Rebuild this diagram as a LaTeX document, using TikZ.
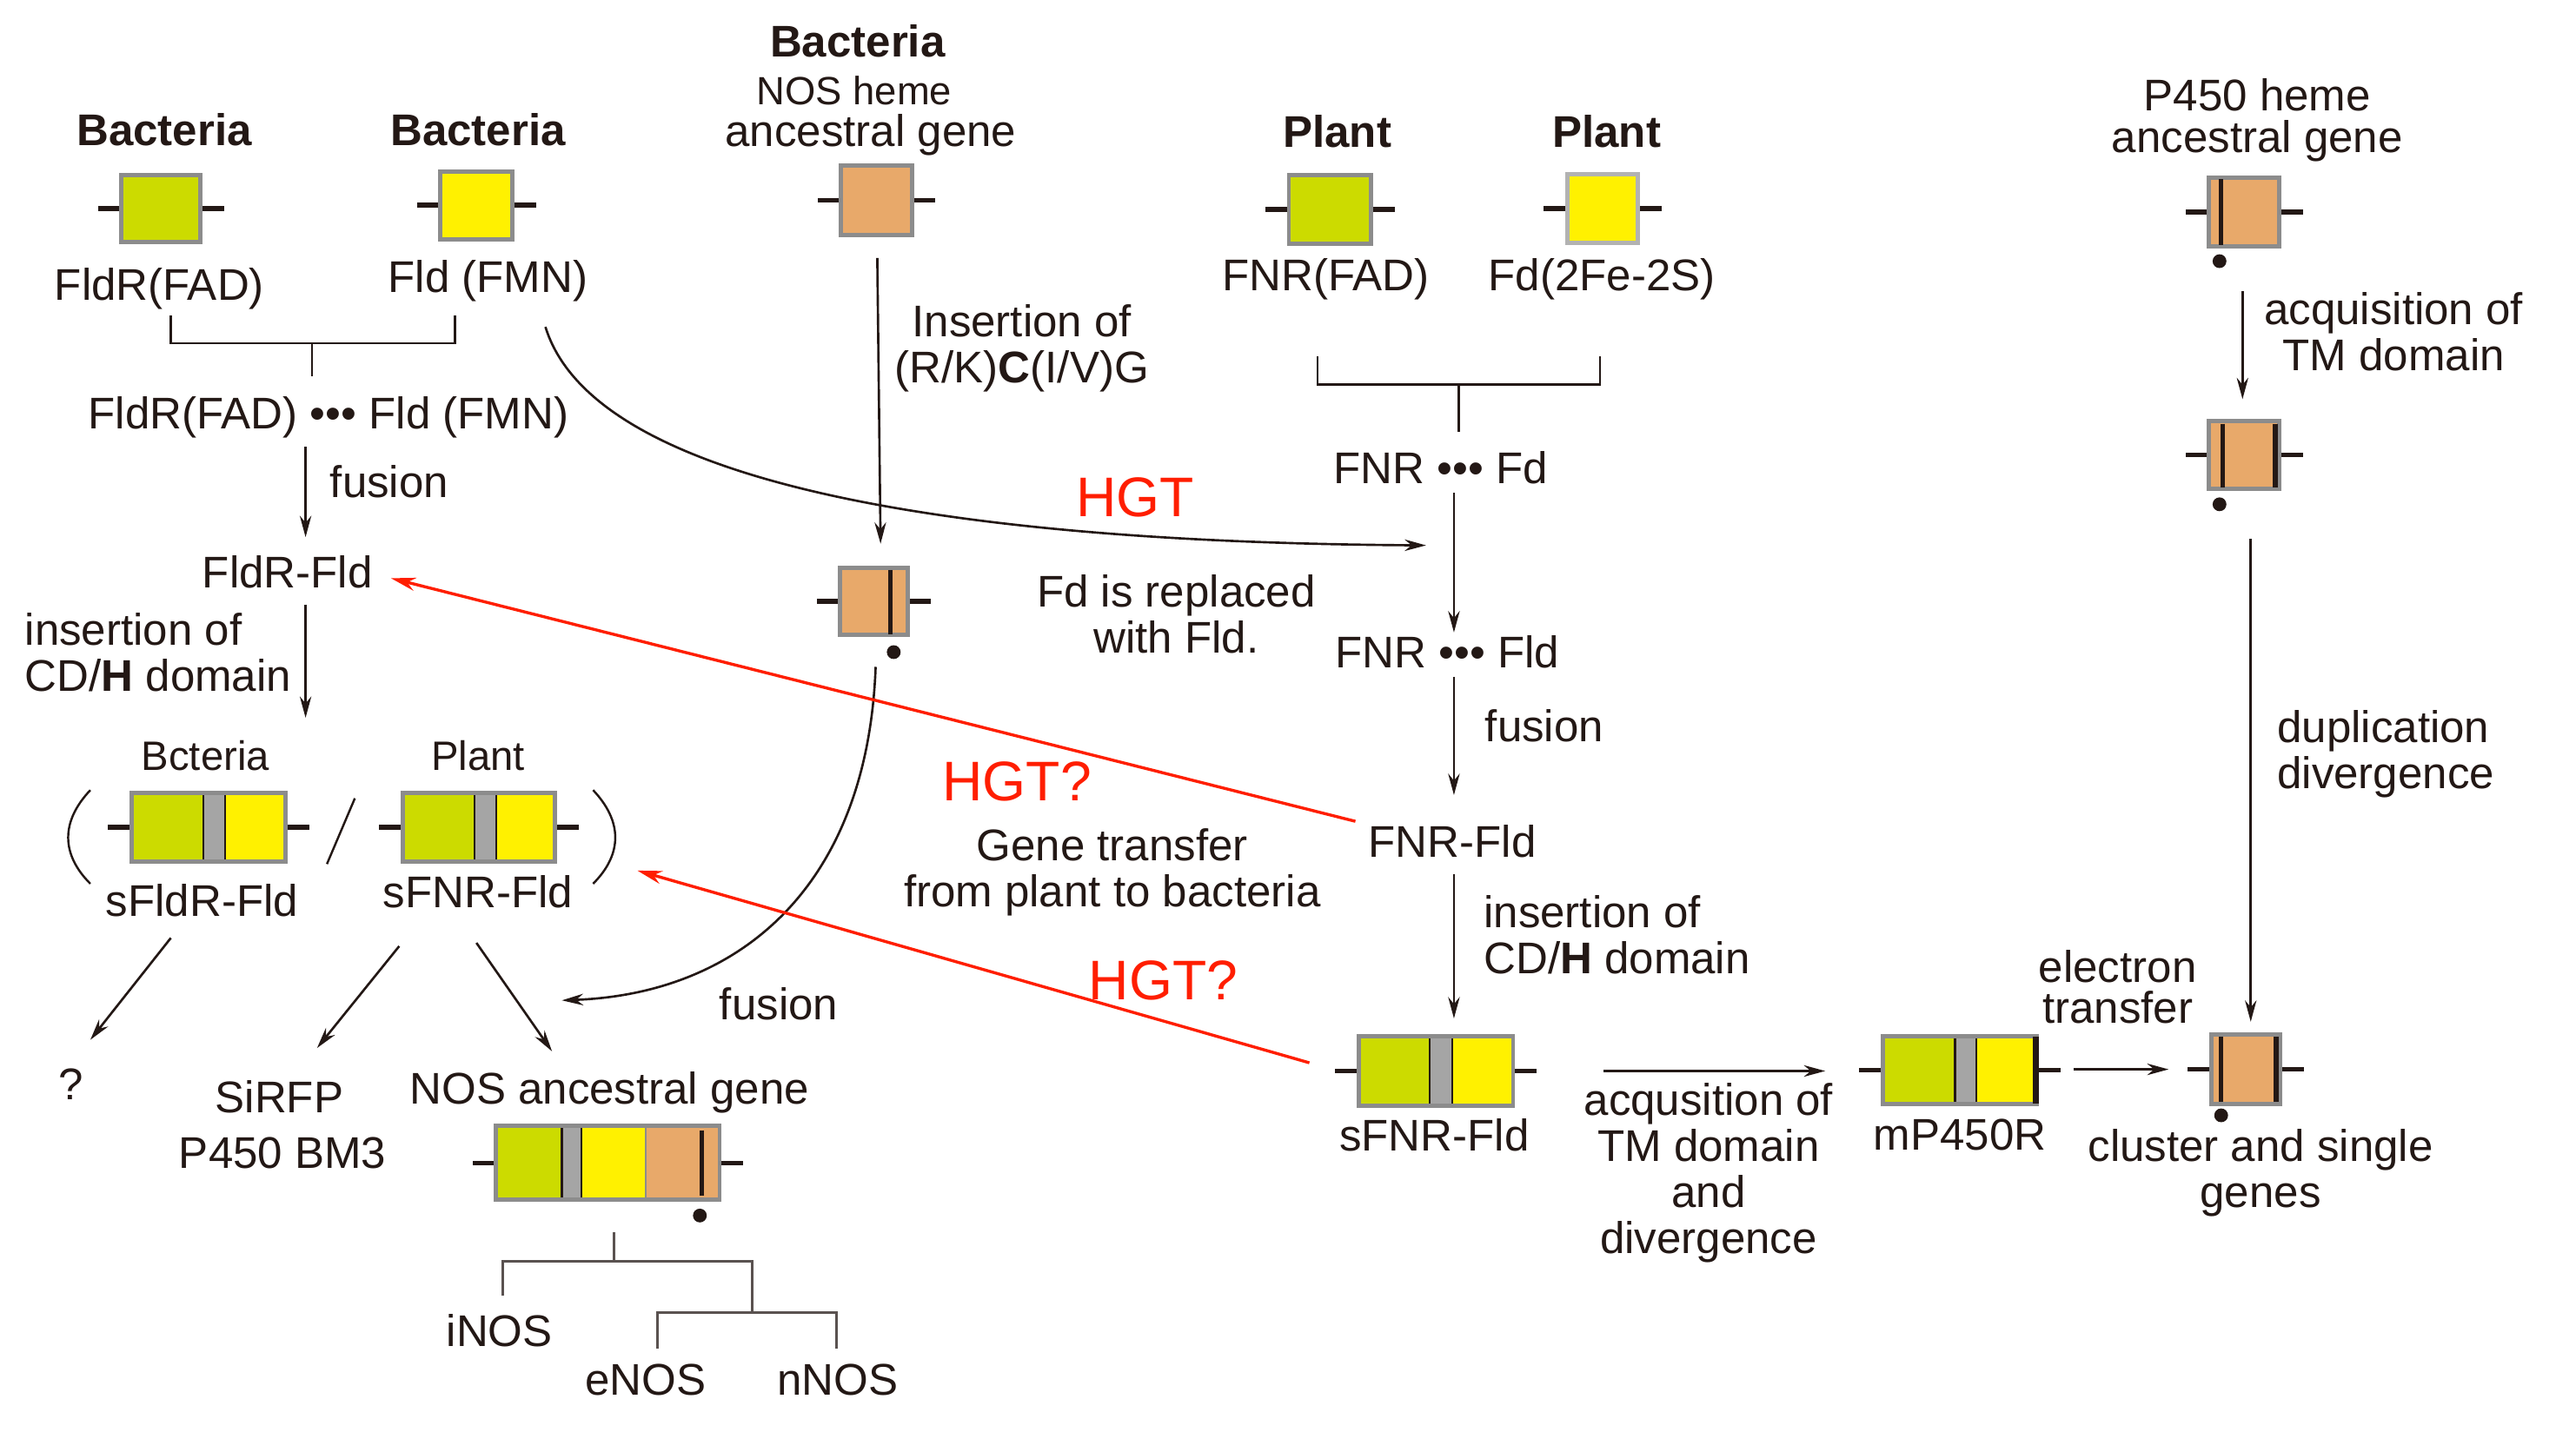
\documentclass[tikz,border=0pt]{standalone}
\usepackage{fontspec}
\setmainfont{Liberation Sans}
\usetikzlibrary{arrows.meta}
\definecolor{ink}{HTML}{231815}
\definecolor{grn}{HTML}{CCDB00}
\definecolor{yel}{HTML}{FFF100}
\definecolor{ora}{HTML}{E8A96A}
\definecolor{bgray}{HTML}{8C8C8C}
\definecolor{sgray}{HTML}{A5A5A5}
\definecolor{hred}{HTML}{FF1E00}
\newcommand{\gstub}[1]{\draw[stub] (#1.west) -- ++(-13,0); \draw[stub] (#1.east) -- ++(13,0);}
\begin{document}
\begin{tikzpicture}[x=1pt,y=-1pt,
 tx/.style={inner sep=0pt, text=ink, font=\fontsize{27}{28}\selectfont},
 bld/.style={tx, font=\fontsize{27}{28}\selectfont\bfseries},
 sml/.style={tx, font=\fontsize{24}{25}\selectfont},
 hgt/.style={inner sep=0pt, text=hred, font=\fontsize{34}{36}\selectfont},
 gene/.style={rectangle, draw=bgray, line width=2.6pt, inner sep=0pt},
 stub/.style={draw=ink, line width=3pt},
 arr/.style={draw=ink, line width=1.4pt, -{Stealth[length=13pt,width=7pt]}},
 rarr/.style={draw=hred, line width=1.8pt, -{Stealth[length=15pt,width=8pt]}},
 ln/.style={draw=ink, line width=1.3pt},
 tln/.style={draw=ink!75, line width=1.6pt},
 blk/.style={draw=ink, line width=2.6pt},
 dotf/.style={fill=ink},
]
\useasboundingbox (0,0) rectangle (1568,876);
\fill[white] (0,0) rectangle (1568,876);

% ---------- top texts ----------
\node[bld] (bac1) at (100,79) {Bacteria};
\node[bld] (bac2) at (291,79) {Bacteria};
\node[bld] (bac3) at (522,25) {Bacteria};
\node[sml] (nosh) at (520,55) {NOS heme};
\node[tx] (anc1) at (530,82) {ancestral gene};
\node[bld] (pl1) at (814,80) {Plant};
\node[bld] (pl2) at (978,80) {Plant};
\node[tx] (ph) at (1374,58) {P450 heme};
\node[tx] (anc2) at (1374,86) {ancestral gene};

% ---------- simple boxes ----------
\node[gene, fill=grn, minimum width=48pt, minimum height=41pt] (b1) at (98,127) {};
\gstub{b1}
\node[gene, fill=yel, minimum width=44pt, minimum height=41pt] (b2) at (290,125) {};
\gstub{b2}
\node[gene, fill=ora, minimum width=43pt, minimum height=42pt] (b3) at (533.5,122) {};
\gstub{b3}
\node[gene, fill=grn, minimum width=50pt, minimum height=42pt] (b5) at (809.5,127.5) {};
\gstub{b5}
\node[gene, fill=yel, draw=gray!60, minimum width=43pt, minimum height=42pt] (b6) at (975.5,127) {};
\gstub{b6}

\node[gene, fill=ora, minimum width=43pt, minimum height=42pt] (b7) at (1366,129) {};
\gstub{b7}
\draw[blk] (1352,109) -- (1352,149);
\fill[dotf] (1351,159) circle (4.2);

\node[gene, fill=ora, minimum width=43pt, minimum height=41pt] (b8) at (1366,277) {};
\gstub{b8}
\draw[blk] (1353,258) -- (1353,297);
\draw[ink, line width=3.4pt] (1385,258) -- (1385,297);
\fill[dotf] (1351,307) circle (4.2);

\node[gene, fill=ora, minimum width=41pt, minimum height=41pt] (b4) at (532,366) {};
\gstub{b4}
\draw[blk] (542,347) -- (542,386);
\fill[dotf] (544,397) circle (4.2);

\node[gene, fill=ora, minimum width=42pt, minimum height=42pt] (b9) at (1367,651) {};
\gstub{b9}
\draw[blk] (1352,631) -- (1352,671);
\draw[ink, line width=3.4pt] (1385.5,631) -- (1385.5,671);
\fill[dotf] (1352,679) circle (4.2);

% ---------- labels under top boxes ----------
\node[tx] (fldr) at (97,176) {FldR(FAD)};
\node[tx] (fld) at (297,171) {Fld (FMN)};
\node[tx] (fnrfad) at (807,170) {FNR(FAD)};
\node[tx] (fd2) at (975,170) {Fd(2Fe-2S)};

% brackets
\draw[ln] (104,192) -- (104,209) -- (277,209) -- (277,192);
\draw[ln] (190,209) -- (190,229);
\draw[ln] (802,217) -- (802,234) -- (974,234) -- (974,217);
\draw[ln] (888,234) -- (888,263);

% ---------- left column ----------
\node[tx] (pair1) at (200,254) {FldR(FAD) ••• Fld (FMN)};
\coordinate (a1s) at (186,272); \coordinate (a1e) at (186,327);
\draw[arr] (a1s) -- (a1e);
\node[tx] (fus1) at (237,293) {fusion};
\node[tx] (fldrfld) at (175,348) {FldR-Fld};
\coordinate (a2s) at (186,368); \coordinate (a2e) at (186,437);
\draw[arr] (a2s) -- (a2e);
\node[tx, align=left, anchor=west] (ins1) at (15,397) {insertion of\\CD/\textbf{H} domain};

\node[sml, font=\fontsize{25}{26}\selectfont] (bct) at (125,460) {Bcteria};
\node[sml, font=\fontsize{25}{26}\selectfont] (plt) at (291,460) {Plant};

% sFldR-Fld box
\fill[grn] (79,482) rectangle (124,525);
\fill[yel] (137,482) rectangle (175,525);
\draw[draw=ink, fill=sgray, line width=1.1pt] (124,482) rectangle (137,525);
\node[gene, minimum width=94pt, minimum height=42pt] (sb1) at (127,503.5) {};
\gstub{sb1}
% sFNR-Fld box (plant)
\fill[grn] (244,482) rectangle (289,525);
\fill[yel] (302,482) rectangle (339,525);
\draw[draw=ink, fill=sgray, line width=1.1pt] (289,482) rectangle (302,525);
\node[gene, minimum width=93pt, minimum height=42pt] (sb2) at (291.5,503.5) {};
\gstub{sb2}

\draw[ln] (55,481) .. controls (37,500) and (37,520) .. (55,538);
\draw[ln] (361,481) .. controls (379,500) and (379,520) .. (361,538);
\draw[ln] (216,486) -- (199,526);

\node[tx] (sfldr) at (123,548) {sFldR-Fld};
\node[tx] (sfnr1) at (291,543) {sFNR-Fld};

\coordinate (d1s) at (104,571); \coordinate (d1e) at (55,633);
\coordinate (d2s) at (243,576); \coordinate (d2e) at (193,638);
\coordinate (d3s) at (290,574); \coordinate (d3e) at (336,640);
\draw[arr] (d1s) -- (d1e);
\draw[arr] (d2s) -- (d2e);
\draw[arr] (d3s) -- (d3e);

\node[tx] (q) at (43,660) {?};
\node[tx] (sirfp) at (170,668) {SiRFP};
\node[tx] (bm3) at (172,702) {P450 BM3};
\node[tx] (nosanc) at (371,665) {NOS ancestral gene};

% NOS composite box
\fill[grn] (301,685) rectangle (342,731);
\fill[yel] (354,685) rectangle (393,731);
\fill[ora] (393,685) rectangle (439,731);
\draw[draw=ink, fill=sgray, line width=1.1pt] (342,685) rectangle (354,731);
\draw[bgray, line width=1.2pt] (393,685) -- (393,731);
\draw[blk] (427,688) -- (427,728);
\node[gene, minimum width=136pt, minimum height=45pt] (nos) at (370,708) {};
\gstub{nos}
\fill[dotf] (426,740) circle (4.2);

% NOS tree
\draw[tln] (374,750) -- (374,768);
\draw[tln] (306,789) -- (306,768) -- (458,768) -- (458,799);
\draw[tln] (400,821) -- (400,799) -- (509,799) -- (509,821);
\node[tx] (inos) at (304,810) {iNOS};
\node[tx] (enos) at (393,840) {eNOS};
\node[tx] (nnos) at (510,840) {nNOS};

% ---------- middle ----------
\coordinate (m1s) at (534,157); \coordinate (m1e) at (536,331);
\draw[arr] (m1s) -- (m1e);
\node[tx, align=center] (insrk) at (622,212) {Insertion of\\(R/K)\textbf{C}(I/V)G};

\coordinate (hgs) at (332,199); \coordinate (hge) at (868,332);
\draw[arr] (hgs) .. controls (360,290) and (560,330) .. (hge);
\node[hgt] (hgt1) at (691,303) {HGT};
\node[tx, align=center] (fdrep) at (716,374) {Fd is replaced\\with Fld.};

\coordinate (fcs) at (533,406); \coordinate (fce) at (342,609);
\draw[arr] (fcs) .. controls (528,540) and (450,605) .. (fce);
\node[tx] (fus2) at (474,611) {fusion};

\coordinate (r1s) at (825,500); \coordinate (r1e) at (238,352);
\draw[rarr] (r1s) -- (r1e);
\coordinate (r2s) at (797,647); \coordinate (r2e) at (388,530);
\draw[rarr] (r2s) -- (r2e);
\node[hgt] (hgt2) at (619,476) {HGT?};
\node[tx, align=center] (gt) at (677,531) {Gene transfer\\from plant to bacteria};
\node[hgt] (hgt3) at (708,597) {HGT?};

% ---------- plant column ----------
\node[tx] (fnrfd) at (877,285) {FNR ••• Fd};
\coordinate (p1s) at (885,300); \coordinate (p1e) at (885,385);
\draw[arr] (p1s) -- (p1e);
\node[tx] (fnrfld) at (881,397) {FNR ••• Fld};
\coordinate (p2s) at (885,412); \coordinate (p2e) at (885,484);
\draw[arr] (p2s) -- (p2e);
\node[tx] (fus3) at (940,442) {fusion};
\node[tx] (fnrfld2) at (884,512) {FNR-Fld};
\coordinate (p3s) at (885,532); \coordinate (p3e) at (885,620);
\draw[arr] (p3s) -- (p3e);
\node[tx, align=left, anchor=west] (ins2) at (903,569) {insertion of\\CD/\textbf{H} domain};

% sFNR-Fld bottom box
\fill[grn] (826,630) rectangle (870,674);
\fill[yel] (884,630) rectangle (922,674);
\draw[draw=ink, fill=sgray, line width=1.1pt] (870,630) rectangle (884,674);
\node[gene, minimum width=94pt, minimum height=42pt] (sb3) at (874,652) {};
\gstub{sb3}
\node[tx] (sfnr2) at (873,691) {sFNR-Fld};

\coordinate (h1s) at (976,652); \coordinate (h1e) at (1111,652);
\draw[arr] (h1s) -- (h1e);
\node[tx, align=center] (acq2) at (1040,714) {acqusition of\\TM domain\\and\\divergence};

% mP450R box
\fill[grn] (1145,630) rectangle (1190,673);
\fill[yel] (1203,630) rectangle (1241,673);
\draw[draw=ink, fill=sgray, line width=1.1pt] (1190,630) rectangle (1203,673);
\node[gene, minimum width=94pt, minimum height=41pt] (mp4) at (1193,651.5) {};
\gstub{mp4}
\draw[ink, line width=3.6pt] (1239,631) -- (1239,672);
\node[tx] (mp) at (1193,691) {mP450R};

\coordinate (h2s) at (1262,651); \coordinate (h2e) at (1320,651);
\draw[arr] (h2s) -- (h2e);
\node[tx, align=center, font=\fontsize{27}{25}\selectfont] (et) at (1289,601) {electron\\transfer};
\node[tx, align=center] (clu) at (1376,714) {cluster and single\\genes};

% ---------- right column ----------
\coordinate (q1s) at (1365,177); \coordinate (q1e) at (1365,243);
\draw[arr] (q1s) -- (q1e);
\node[tx, align=center] (acq1) at (1457,202) {acquisition of\\TM domain};
\coordinate (q2s) at (1370,328); \coordinate (q2e) at (1370,622);
\draw[arr] (q2s) -- (q2e);
\node[tx, align=left, anchor=west] (dup) at (1386,459) {duplication\\divergence};
\end{tikzpicture}
\end{document}
